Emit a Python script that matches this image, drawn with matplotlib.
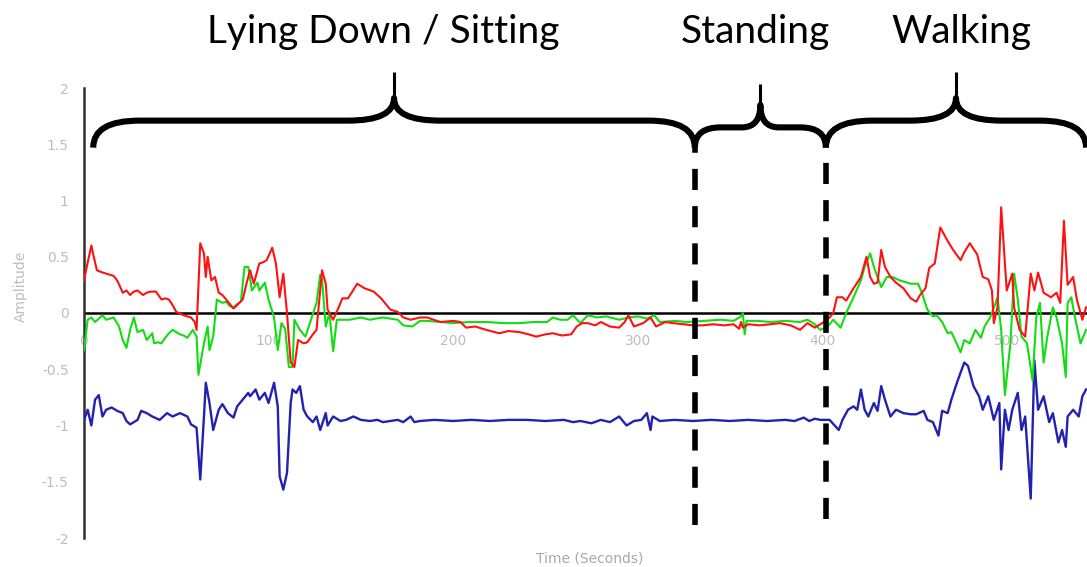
import matplotlib
matplotlib.use("Agg")
import matplotlib.pyplot as plt
from matplotlib.path import Path
import matplotlib.patches as patches

plt.rcParams['axes.unicode_minus'] = False

# signals (time in s, amplitude)
red_t = [0, 2, 4, 5, 7, 10, 12, 16, 18, 21, 23, 25, 27, 29, 32, 34, 36, 39, 42, 44, 46, 48, 50, 54, 56, 58, 60, 61,
         63, 65, 66, 67, 69, 71, 73, 75, 78, 81, 83, 86, 88, 90, 92, 95, 97, 99, 102, 104, 106, 108, 110, 112, 114,
         116, 119, 121, 124, 126, 129, 131, 132, 135, 138, 140, 143, 145, 148, 152, 157, 161, 166, 170, 173, 177,
         182, 186, 193, 200, 204, 207, 212, 218, 225, 230, 236, 241, 245, 250, 254, 259, 264, 267, 270, 273, 277,
         280, 285, 290, 293, 295, 298, 303, 307, 310, 315, 319, 325, 330, 335, 341, 347, 352, 355, 356, 357, 360,
         366, 372, 377, 383, 388, 392, 396, 400, 404, 406, 408, 411, 413, 417, 419, 421, 424, 426, 428, 430, 432,
         434, 437, 440, 444, 448, 451, 453, 456, 458, 461, 464, 466, 468, 471, 475, 477, 480, 484, 487, 490, 492,
         493, 495, 497, 500, 503, 504, 507, 510, 513, 515, 517, 520, 524, 527, 529, 531, 533, 536, 538, 541, 543]
red_v = [0.29, 0.45, 0.60, 0.52, 0.38, 0.36, 0.35, 0.33, 0.29, 0.18, 0.20, 0.16, 0.19, 0.20, 0.16, 0.18, 0.19, 0.19,
         0.12, 0.13, 0.12, 0.07, 0.01, -0.02, -0.03, -0.04, -0.08, -0.15,
         0.62, 0.53, 0.32, 0.50, 0.29, 0.32, 0.18, 0.16, 0.10, 0.04, 0.07, 0.12, 0.26, 0.38, 0.26, 0.44, 0.45, 0.47,
         0.58, 0.44, 0.14, 0.35, 0.00, -0.44, -0.48,
         -0.24, -0.27, -0.26, -0.19, -0.15, 0.38, 0.26, 0.03, -0.06, 0.05, 0.13, 0.13, 0.18, 0.26, 0.22, 0.19, 0.13,
         0.03, 0.01, -0.04, -0.06,
         -0.04, -0.04, -0.08, -0.07, -0.08, -0.13, -0.12, -0.15, -0.18, -0.16, -0.17, -0.19, -0.21, -0.19, -0.18,
         -0.20, -0.19, -0.12, -0.09, -0.09, -0.11,
         -0.08, -0.12, -0.13, -0.08, -0.02, -0.12, -0.09, -0.04, -0.12, -0.08, -0.09, -0.10, -0.11, -0.11, -0.10,
         -0.11, -0.10, -0.14, -0.08, -0.13, -0.10,
         -0.11, -0.10, -0.09, -0.11, -0.15, -0.09, -0.13, -0.09, -0.04, 0.00, 0.14, 0.14, 0.11, 0.22, 0.27, 0.32,
         0.50, 0.32, 0.26, 0.27, 0.56,
         0.41, 0.32, 0.27, 0.22, 0.13, 0.10, 0.16, 0.22, 0.40, 0.44, 0.76, 0.70, 0.64, 0.56, 0.47, 0.54, 0.62, 0.52,
         0.32, 0.30, 0.20,
         -0.09, 0.05, 0.94, 0.20, 0.35, 0.05, -0.15, -0.21, 0.35, 0.20, 0.36, 0.18, 0.14, 0.18, 0.09, 0.82, 0.25,
         0.32, 0.12, -0.06, 0.05]

green_t = [0, 2, 4, 6, 8, 10, 12, 14, 16, 19, 21, 23, 25, 27, 29, 32, 34, 37, 38, 40, 42, 44, 46, 48, 50, 52, 54,
           56, 59, 61, 62, 65, 67, 68, 70, 72, 75, 77, 79, 81, 83, 85, 87, 89, 91, 94, 95, 98, 100, 103, 105, 107,
           109, 111, 113, 114, 117, 120, 123, 126, 128, 129, 131, 133, 135, 137, 140, 144, 147, 150, 155, 158, 162,
           166, 170, 173, 178, 182, 186, 193, 200, 209, 218, 227, 236, 244, 251, 254, 258, 262, 265, 269, 273, 278,
           283, 290, 295, 300, 305, 309, 312, 320, 327, 336, 345, 352, 356, 357, 358, 359, 365, 372, 380, 388, 392,
           396, 399, 403, 406, 410, 413, 417, 421, 423, 426, 428, 430, 432, 435, 438, 442, 448, 452, 454, 457, 460,
           462, 465, 468, 470, 472, 475, 477, 480, 483, 486, 488, 491, 494, 495, 497, 499, 502, 504, 506, 508, 511,
           514, 516, 518, 520, 522, 525, 527, 530, 532, 533, 535, 537, 540, 543]
green_v = [-0.33, -0.06, -0.04, -0.08, -0.05, -0.02, -0.06, -0.05, -0.04, -0.12, -0.24, -0.31, -0.15, -0.04, -0.17,
           -0.15, -0.24, -0.18, -0.27, -0.26, -0.27, -0.22, -0.18, -0.15, -0.17, -0.19, -0.20,
           -0.22, -0.15, -0.21, -0.55, -0.27, -0.12, -0.33, -0.21, 0.12, 0.09, 0.10, 0.06, 0.05, 0.08, 0.10, 0.41,
           0.41, 0.20, 0.27, 0.20, 0.27, 0.12, -0.04, -0.33, -0.09,
           -0.14, -0.48, -0.48, -0.06, -0.15, -0.21, -0.06, 0.09, 0.34, 0.30, -0.12, 0.00, -0.34, -0.06, -0.06, -0.06,
           -0.05, -0.04, -0.06, -0.05, -0.04,
           -0.05, -0.06, -0.11, -0.12, -0.07, -0.07, -0.08, -0.09, -0.08, -0.08, -0.09, -0.09, -0.08, -0.08, -0.04,
           -0.06, -0.06, -0.02, -0.09, -0.02, -0.04,
           -0.03, -0.06, -0.04, -0.03, -0.05, -0.02, -0.08, -0.07, -0.08, -0.07, -0.06, -0.07, -0.03, 0.00, -0.19,
           -0.07, -0.07, -0.08, -0.07, -0.08, -0.06,
           -0.10, -0.15, -0.12, -0.06, -0.13, 0.00, 0.14, 0.29, 0.41, 0.53, 0.41, 0.32, 0.23, 0.32, 0.32, 0.29, 0.26,
           0.26, 0.18, 0.03, -0.03,
           -0.02, -0.08, -0.18, -0.17, -0.24, -0.35, -0.24, -0.27, -0.15, -0.22, -0.12, -0.04, 0.09, 0.14, -0.15,
           -0.73, -0.27, 0.35, 0.12, -0.21, -0.27,
           -0.60, -0.04, 0.09, -0.44, -0.21, 0.05, -0.04, -0.27, -0.57, 0.09, 0.14, -0.04, -0.27, -0.15]

blue_t = [0, 2, 4, 6, 8, 10, 12, 15, 18, 21, 23, 25, 29, 31, 34, 37, 41, 45, 48, 52, 56, 58, 61, 63, 65, 66, 68,
          70, 73, 75, 78, 81, 83, 86, 89, 90, 93, 95, 98, 100, 103, 105, 106, 108, 110, 112, 113, 115, 117, 119,
          121, 124, 126, 128, 131, 132, 135, 139, 142, 146, 150, 155, 159, 162, 166, 170, 173, 177, 179, 182, 190,
          200, 210, 220, 230, 240, 250, 260, 265, 269, 275, 280, 285, 290, 294, 298, 302, 305, 307, 308, 312, 320,
          330, 340, 350, 360, 370, 380, 385, 390, 393, 396, 399, 404, 409, 411, 414, 417, 419, 421, 423, 425, 428,
          430, 432, 434, 437, 440, 444, 448, 451, 455, 457, 460, 463, 465, 468, 470, 473, 475, 477, 479, 482, 485,
          487, 490, 493, 496, 497, 499, 501, 503, 506, 508, 510, 513, 515, 517, 520, 523, 525, 528, 530, 532, 533,
          536, 539, 541, 543]
blue_v = [-0.95, -0.86, -1.00, -0.77, -0.73, -0.92, -0.86, -0.84, -0.87, -0.89, -0.96, -0.99, -0.95, -0.87, -0.89,
          -0.92, -0.95, -0.89, -0.92, -0.89, -0.92, -0.99, -1.02, -1.48, -0.92, -0.62, -0.80,
          -1.04, -0.86, -0.81, -0.89, -0.93, -0.83, -0.77, -0.71, -0.74, -0.68, -0.77, -0.71, -0.80, -0.62, -0.83,
          -1.45, -1.57, -1.42, -0.80, -0.68, -0.71, -0.65, -0.86,
          -0.92, -0.97, -0.92, -1.04, -0.89, -1.00, -0.92, -0.96, -0.95, -0.92, -0.95, -0.96, -0.95, -0.97, -0.96,
          -0.95, -0.97, -0.92, -0.97, -0.96, -0.95,
          -0.96, -0.95, -0.96, -0.95, -0.95, -0.96, -0.95, -0.97, -0.96, -0.98, -0.95, -0.97, -0.92, -1.00, -0.96,
          -0.95, -0.89, -1.04, -0.92, -0.96, -0.95,
          -0.96, -0.95, -0.96, -0.95, -0.96, -0.95, -0.96, -0.93, -0.96, -0.94, -0.95, -0.95, -1.04, -0.95, -0.86,
          -0.83, -0.86, -0.68, -0.86, -0.92, -0.80,
          -0.87, -0.65, -0.77, -0.92, -0.86, -0.89, -0.90, -0.90, -0.87, -0.95, -0.97, -1.09, -0.87, -0.89, -0.77,
          -0.62, -0.53, -0.44, -0.47, -0.65, -0.74,
          -0.86, -0.74, -0.95, -0.80, -1.39, -0.86, -1.04, -0.86, -0.71, -1.04, -0.92, -1.65, -0.42, -0.86, -0.74,
          -0.97, -0.89, -1.15, -1.04, -1.19, -0.92,
          -0.86, -0.92, -0.74, -0.68]

# activity segments (seconds)
seg_labels = ["Lying Down / Sitting", "Standing", "Walking"]
seg_start = [5, 331, 402]
seg_end = [331, 402, 543]

x_ticks = [0, 100, 200, 300, 400, 500]
x_ticklabels = ["0", "100", "200", "300", "400", "500"]
y_ticks = [-2, -1.5, -1, -0.5, 0, 0.5, 1, 1.5, 2]
y_ticklabels = ["-2", "-1.5", "-1", "-0.5", "0", "0.5", "1", "1.5", "2"]


def brace(ax, x0, x1, y_end, y_h, y_tip, r, rc):
    xm = (x0 + x1) / 2
    dc = 0.2
    verts = [(x0, y_end), (x0, y_h), (x0 + r, y_h),
             (xm - rc, y_h), (xm, y_h), (xm, y_h + dc),
             (xm, y_h), (xm + rc, y_h),
             (x1 - r, y_h), (x1, y_h), (x1, y_end)]
    codes = [Path.MOVETO, Path.CURVE3, Path.CURVE3,
             Path.LINETO, Path.CURVE3, Path.CURVE3,
             Path.CURVE3, Path.CURVE3,
             Path.LINETO, Path.CURVE3, Path.CURVE3]
    p = patches.PathPatch(Path(verts, codes), fill=False, lw=4.4, edgecolor='black',
                          capstyle='butt', joinstyle='round', clip_on=False, zorder=6)
    ax.add_patch(p)
    ax.plot([xm, xm], [y_h + dc - 0.02, y_tip], color='black', lw=2.2, clip_on=False, zorder=6,
            solid_capstyle='butt')
    return xm


fig = plt.figure(figsize=(10.87, 5.67), dpi=100)
ax = fig.add_axes([84 / 1087, 1 - 538 / 567, 1003 / 1087, 450 / 567])

gray = '#bdbdbd'
ax.axhline(0, color='black', lw=1.8, zorder=2)
ax.plot(blue_t, blue_v, color='#2222b0', lw=1.7, zorder=3)
ax.plot(green_t, green_v, color='#11dd11', lw=1.5, zorder=3)
ax.plot(red_t, red_v, color='#ff1111', lw=1.5, zorder=3)

ax.set_xlim(0, 543.5)
ax.set_ylim(-2, 2)

for s in ['top', 'right']:
    ax.spines[s].set_visible(False)
ax.spines['left'].set_color('#303030')
ax.spines['left'].set_linewidth(1.8)
ax.spines['bottom'].set_position(('data', 0))
ax.spines['bottom'].set_color('none')

ax.set_xticks(x_ticks)
ax.set_xticklabels(x_ticklabels)
ax.set_yticks(y_ticks)
ax.set_yticklabels(y_ticklabels)
ax.tick_params(axis='x', length=0, pad=15, labelsize=10, labelcolor=gray)
ax.tick_params(axis='y', length=0, pad=11, labelsize=10, labelcolor=gray)

ax.set_ylabel("Amplitude", color=gray, fontsize=10)
ax.yaxis.set_label_coords(-0.056, 0.56)
ax.set_xlabel("Time (Seconds)", color='#a8a8a8', fontsize=10)
ax.xaxis.set_label_coords(0.504, -0.03)

# dashed boundaries between activities
for xb, yb in zip(seg_start[1:], [(-1.88, 1.55), (-1.83, 1.48)]):
    ax.plot([xb, xb], list(yb), color='black', lw=4, linestyle=(0, (3.8, 2.9)),
            dash_capstyle='butt', zorder=5, clip_on=False)

# braces and labels
brace_geom = [(1.47, 1.71, 2.14, 25, 25), (1.47, 1.65, 2.04, 14, 10), (1.47, 1.71, 2.14, 25, 25)]
label_dx = [-6, -3, 3]
for lab, a, b, g, dx in zip(seg_labels, seg_start, seg_end, brace_geom, label_dx):
    xm = brace(ax, a, b, *g)
    ax.text(xm + dx, 2.5, lab, fontsize=28, family=['Lato', 'DejaVu Sans'],
            ha='center', va='center', clip_on=False)

fig.savefig("out.png", dpi=100)
